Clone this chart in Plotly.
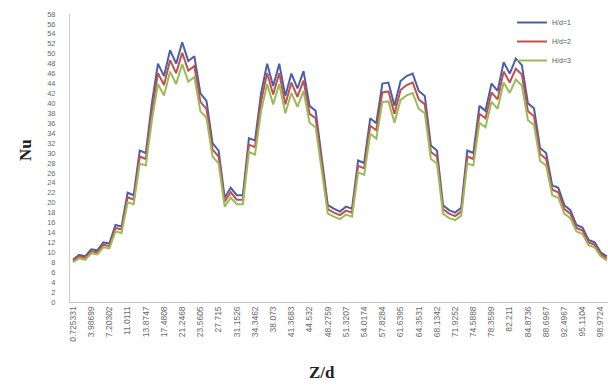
import plotly.graph_objects as go

# Z/d tick labels (every 3rd sample carries a label)
zd_labels = ["0.725331", "3.98699", "7.20302", "11.0111", "13.8747", "17.4808",
             "21.2468", "23.5605", "27.715", "31.1526", "34.3462", "38.073",
             "41.3683", "44.532", "48.2759", "51.3207", "54.0174", "57.8284",
             "61.6395", "64.3531", "68.1342", "71.9252", "74.5888", "78.3599",
             "82.211", "84.8736", "88.6967", "92.4967", "95.1104", "98.9724"]

nu_hd1 = [8.5, 9.5, 9.2, 10.6, 10.4, 12.0, 11.8, 15.5, 15.2, 22.0,
          21.5, 30.5, 30.0, 40.0, 48.0, 45.5, 50.7, 48.0, 52.3, 48.5,
          49.5, 42.0, 40.5, 32.0, 30.5, 21.0, 23.0, 21.5, 21.5, 33.0,
          32.5, 42.0, 48.0, 43.5, 48.0, 41.5, 46.0, 43.0, 46.5, 39.5,
          38.5, 29.0, 19.5, 18.8, 18.2, 19.2, 18.8, 28.5, 28.0, 37.0,
          36.0, 44.0, 44.2, 39.5, 44.5, 45.5, 46.0, 42.5, 41.5, 31.5,
          30.5, 19.5, 18.5, 18.0, 19.0, 30.5, 30.0, 39.5, 38.5, 44.0,
          42.5, 48.3, 46.0, 49.0, 47.7, 40.0, 39.0, 31.0, 30.0, 23.5,
          23.0, 19.5, 18.5, 15.5, 15.0, 12.5, 12.0, 10.0, 9.2]

nu_hd2 = [8.3, 9.2, 8.9, 10.2, 10.0, 11.5, 11.3, 14.9, 14.6, 21.1,
          20.6, 29.3, 28.8, 38.4, 46.1, 43.7, 48.7, 46.1, 50.2, 46.6,
          47.5, 40.3, 38.9, 30.7, 29.3, 20.2, 22.1, 20.6, 20.6, 31.7,
          31.2, 40.3, 46.1, 41.8, 46.1, 39.8, 44.2, 41.3, 44.6, 37.9,
          37.0, 27.8, 18.7, 18.0, 17.5, 18.4, 18.0, 27.4, 26.9, 35.5,
          34.6, 42.2, 42.4, 37.9, 42.7, 43.7, 44.2, 40.8, 39.8, 30.2,
          29.3, 18.7, 17.8, 17.3, 18.2, 29.3, 28.8, 37.9, 37.0, 42.2,
          40.8, 46.4, 44.2, 47.0, 45.8, 38.4, 37.4, 29.8, 28.8, 22.6,
          22.1, 18.7, 17.8, 14.9, 14.4, 12.0, 11.5, 9.6, 8.8]

nu_hd3 = [8.0, 8.8, 8.5, 9.8, 9.6, 11.0, 10.8, 14.2, 13.9, 20.1,
          19.7, 27.9, 27.5, 36.6, 43.9, 41.6, 46.4, 43.9, 47.9, 44.4,
          45.3, 38.4, 37.1, 29.3, 27.9, 19.2, 21.0, 19.7, 19.7, 30.2,
          29.7, 38.4, 43.9, 39.8, 43.9, 38.0, 42.1, 39.3, 42.5, 36.1,
          35.2, 26.5, 17.8, 17.2, 16.7, 17.6, 17.2, 26.1, 25.6, 33.9,
          32.9, 40.3, 40.4, 36.1, 40.7, 41.6, 42.1, 38.9, 38.0, 28.8,
          27.9, 17.8, 16.9, 16.5, 17.4, 27.9, 27.5, 36.1, 35.2, 40.3,
          38.9, 44.2, 42.1, 44.8, 43.6, 36.6, 35.7, 28.4, 27.5, 21.5,
          21.0, 17.8, 16.9, 14.2, 13.7, 11.4, 11.0, 9.2, 8.4]

series_names = ["H/d=1", "H/d=2", "H/d=3"]
colors = ["#4A5FA5", "#C0504D", "#9BBB59"]

idx = list(range(len(nu_hd1)))
tick_idx = idx[::3][:len(zd_labels)]

fig = go.Figure()
for name, vals, col in zip(series_names, [nu_hd1, nu_hd2, nu_hd3], colors):
    fig.add_trace(go.Scatter(x=idx, y=vals, mode="lines", name=name,
                             line=dict(color=col, width=2)))

ML, MR, MT, MB = 70, 0, 14, 83
W, H = 608, 385
pw, ph = W - ML - MR, H - MT - MB

def px_x(x):
    return (x - ML) / pw

def px_y(y):
    return (H - MB - y) / ph

fig.update_layout(
    width=W, height=H,
    margin=dict(l=ML, r=MR, t=MT, b=MB),
    paper_bgcolor="white", plot_bgcolor="white",
    showlegend=True,
    legend=dict(x=px_x(512), y=px_y(8), xanchor="left", yanchor="top",
                font=dict(family="Liberation Sans", size=7, color="#555"),
                bgcolor="rgba(0,0,0,0)", itemwidth=30, tracegroupgap=0),
    xaxis=dict(range=[-0.5, 88.2], tickmode="array", tickvals=tick_idx,
               ticktext=zd_labels, tickangle=-90, showgrid=False,
               zeroline=False, showline=True, linecolor="#c8c8c8",
               linewidth=1, ticks="",
               tickfont=dict(family="Liberation Sans", size=8.5, color="#6a6a6a")),
    yaxis=dict(range=[0, 58], tickmode="array", tickvals=list(range(0, 59, 2)),
               showgrid=False, zeroline=False, showline=True,
               linecolor="#c8c8c8", linewidth=1, ticks="",
               ticklabelstandoff=12,
               tickfont=dict(family="Liberation Sans", size=7.5, color="#6a6a6a")),
    annotations=[
        dict(text="<b>Nu</b>", x=px_x(25), y=px_y(150), xref="paper", yref="paper",
             xanchor="center", yanchor="middle",
             showarrow=False, textangle=-90,
             font=dict(family="Liberation Serif", size=17, color="#222")),
        dict(text="<b>Z/d</b>", x=px_x(322), y=px_y(372), xref="paper", yref="paper",
             xanchor="center", yanchor="middle",
             showarrow=False,
             font=dict(family="Liberation Serif", size=17, color="#222")),
    ],
)

fig.write_html("out.html")
